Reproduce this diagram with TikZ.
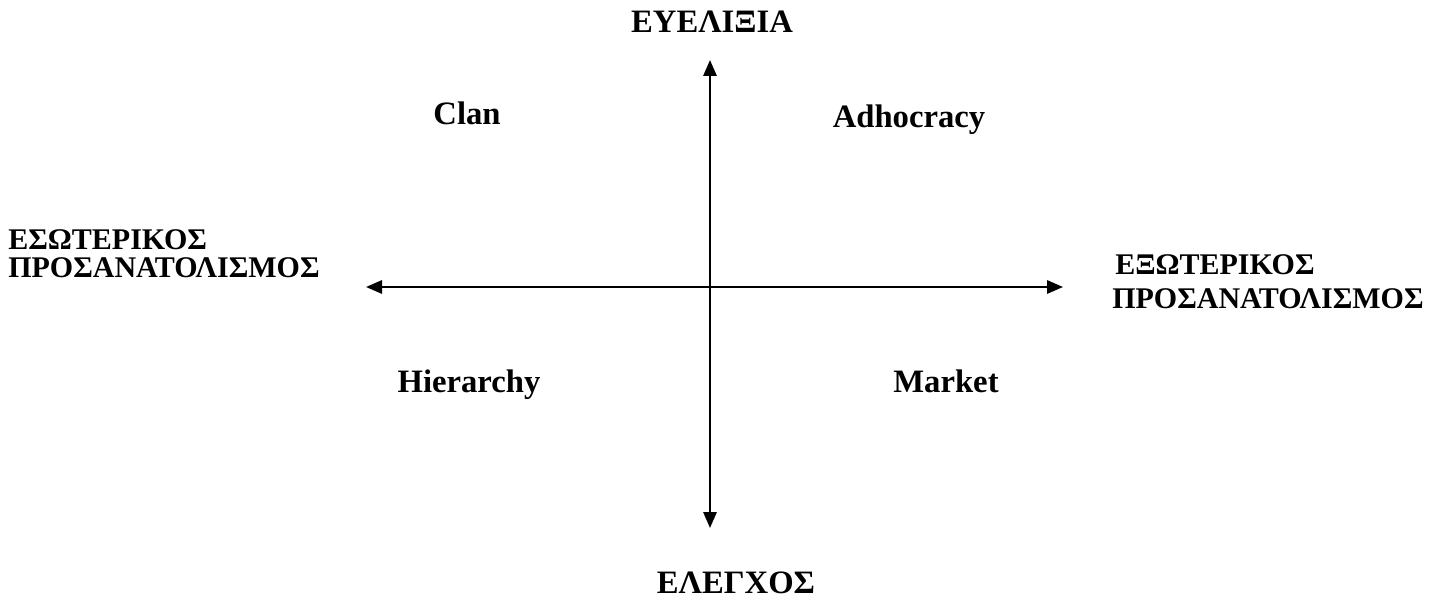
\documentclass[tikz,border=0pt]{standalone}
\usepackage{fontspec}
\setmainfont{Liberation Serif}
\usetikzlibrary{arrows.meta}
\begin{document}
\begin{tikzpicture}[x=0.75pt,y=-0.75pt,
  lbl/.style={font=\fontsize{24.5}{27}\selectfont\bfseries, inner sep=0pt, anchor=base},
  side/.style={font=\fontsize{22.5}{25}\selectfont\bfseries, inner sep=0pt, anchor=base west},
  axis/.style={line width=1.5pt, {Triangle[length=12pt,width=10pt]}-{Triangle[length=12pt,width=10pt]}}]
\useasboundingbox (0,0) rectangle (1433,598);
\coordinate (top) at (710,60);
\coordinate (bot) at (710,528);
\coordinate (lft) at (366,287);
\coordinate (rgt) at (1063,287);
\draw[axis] (top) -- (bot);
\draw[axis] (lft) -- (rgt);
\node[lbl] (flex) at (712,33) {ΕΥΕΛΙΞΙΑ};
\node[lbl] (ctrl) at (736,593) {ΕΛΕΓΧΟΣ};
\node[lbl] (clan) at (467,125) {Clan};
\node[lbl] (adh) at (909,128) {Adhocracy};
\node[lbl] (hier) at (469,392) {Hierarchy};
\node[lbl] (mkt) at (946,392) {Market};
\node[side] (int1) at (8,250) {ΕΣΩΤΕΡΙΚΟΣ};
\node[side] (int2) at (8,278) {ΠΡΟΣΑΝΑΤΟΛΙΣΜΟΣ};
\node[side] (ext1) at (1115,275) {ΕΞΩΤΕΡΙΚΟΣ};
\node[side] (ext2) at (1112,308) {ΠΡΟΣΑΝΑΤΟΛΙΣΜΟΣ};
\end{tikzpicture}
\end{document}
